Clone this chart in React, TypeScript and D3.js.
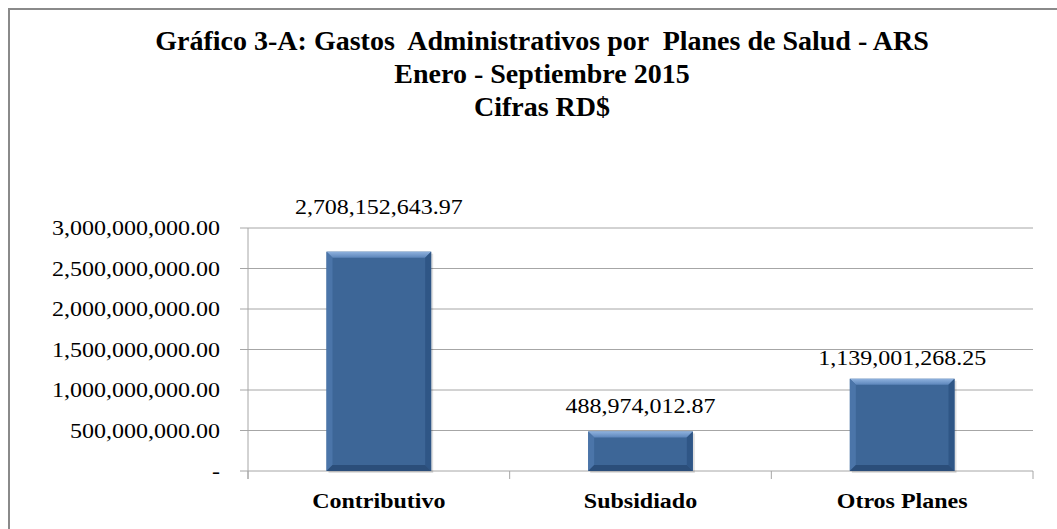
import * as d3 from "d3";

const categories = ["Contributivo", "Subsidiado", "Otros Planes"];
const values = [2708152643.97, 488974012.87, 1139001268.25];
const yTicks = [0, 500000000, 1000000000, 1500000000, 2000000000, 2500000000, 3000000000];
const titleLines = [
  "Gráfico 3-A: Gastos  Administrativos por  Planes de Salud - ARS",
  "Enero - Septiembre 2015",
  "Cifras RD$",
];

const W = 1057;
const H = 529;
const plot = { left: 248, right: 1033, top: 228, bottom: 471 };
const FONT = "'Liberation Serif', 'Times New Roman', serif";
const STRETCH = 1.2;
const labelGap = [38, 18, 14];

const fmt = (v: number) => (v === 0 ? "-" : d3.format(",.2f")(v));

function Bar({ x, y, w, h }: { x: number; y: number; w: number; h: number }) {
  const b = Math.min(6, h / 3);
  return (
    <g>
      <rect x={x + 2} y={y + 2} width={w} height={h} fill="#000" opacity={0.12} />
      <rect x={x} y={y} width={w} height={h} fill="#3d6697" />
      <polygon
        points={`${x},${y} ${x + w},${y} ${x + w - b},${y + b} ${x + b},${y + b}`}
        fill="url(#topBevel)"
      />
      <polygon points={`${x},${y} ${x + b},${y + b} ${x + b},${y + h - b} ${x},${y + h}`} fill="#4b75a9" />
      <polygon
        points={`${x + w},${y} ${x + w - b},${y + b} ${x + w - b},${y + h - b} ${x + w},${y + h}`}
        fill="#2f5686"
      />
      <polygon
        points={`${x},${y + h} ${x + b},${y + h - b} ${x + w - b},${y + h - b} ${x + w},${y + h}`}
        fill="#2b4e7a"
      />
    </g>
  );
}

export default function App() {
  const x = d3.scaleBand<string>().domain(categories).range([plot.left, plot.right]).padding(0);
  const y = d3.scaleLinear().domain([0, 3000000000]).range([plot.bottom, plot.top]);
  const bw = x.bandwidth() * 0.4;
  const boundaries = [plot.left, ...categories.map((c) => x(c)! + x.bandwidth())];

  return (
    <svg
      width={W}
      height={H}
      style={{ position: "absolute", left: 0, top: 0, background: "#fff" }}
      fontFamily={FONT}
    >
      <defs>
        <linearGradient id="topBevel" x1="0" y1="0" x2="0" y2="1">
          <stop offset="0" stopColor="#8fb2de" />
          <stop offset="1" stopColor="#5d86bb" />
        </linearGradient>
      </defs>
      <rect x={0} y={0} width={W} height={H} fill="#fff" />
      <rect x={9} y={9} width={W + 40} height={H + 40} fill="none" stroke="#8a8a8a" strokeWidth={2} />

      {titleLines.map((t, i) => (
        <text
          key={t}
          x={542}
          y={50 + i * 33}
          textAnchor="middle"
          fontWeight="bold"
          fontSize={28}
          fill="#000"
          style={{ whiteSpace: "pre" }}
        >
          {t}
        </text>
      ))}

      {yTicks.map((t) => (
        <g key={t}>
          {t > 0 && (
            <line x1={plot.left} x2={plot.right} y1={y(t)} y2={y(t)} stroke="#a6a6a6" strokeWidth={1} />
          )}
          <line x1={plot.left - 8} x2={plot.left} y1={y(t)} y2={y(t)} stroke="#a6a6a6" strokeWidth={1} />
          <text
            transform={`translate(220,${y(t)}) scale(${STRETCH},1)`}
            dy="0.35em"
            textAnchor="end"
            fontSize={20}
            fill="#000"
          >
            {fmt(t)}
          </text>
        </g>
      ))}

      <line x1={plot.left} x2={plot.left} y1={plot.top} y2={plot.bottom + 8} stroke="#a6a6a6" />
      <line x1={plot.left} x2={plot.right} y1={plot.bottom} y2={plot.bottom} stroke="#a6a6a6" />
      {boundaries.map((bx) => (
        <line key={bx} x1={bx} x2={bx} y1={plot.bottom} y2={plot.bottom + 8} stroke="#a6a6a6" />
      ))}

      {categories.map((c, i) => {
        const cx = x(c)! + x.bandwidth() / 2;
        const top = y(values[i]);
        return (
          <g key={c}>
            <Bar x={cx - bw / 2} y={top} w={bw} h={plot.bottom - top} />
            <text
              transform={`translate(${cx},${top - labelGap[i]}) scale(${STRETCH},1)`}
              textAnchor="middle"
              fontSize={20}
              fill="#000"
            >
              {fmt(values[i])}
            </text>
            <text
              transform={`translate(${cx},508) scale(${STRETCH},1)`}
              textAnchor="middle"
              fontSize={20}
              fontWeight="bold"
              fill="#000"
            >
              {c}
            </text>
          </g>
        );
      })}
    </svg>
  );
}
